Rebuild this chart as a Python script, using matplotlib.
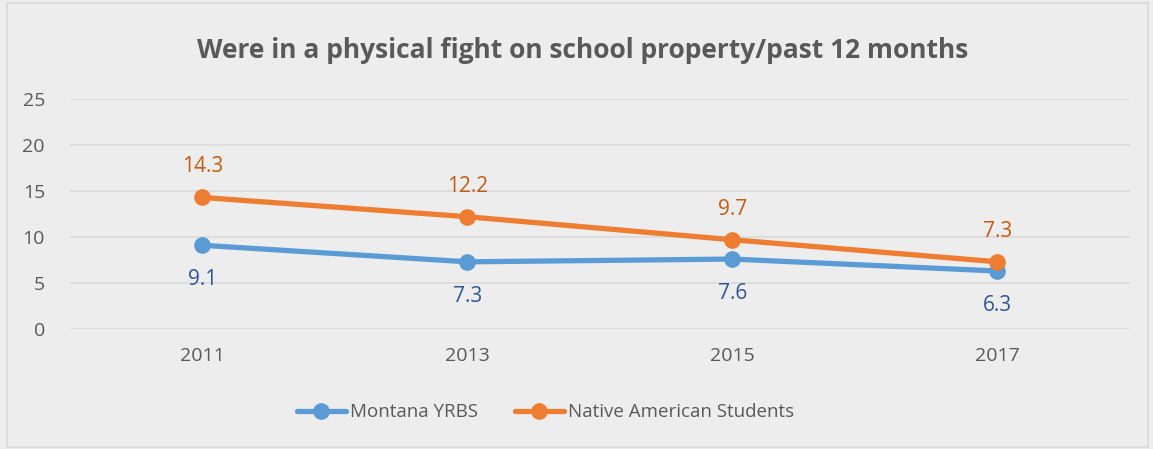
import matplotlib.pyplot as plt
from matplotlib.patches import Rectangle

years = ["2011", "2013", "2015", "2017"]
montana = [9.1, 7.3, 7.6, 6.3]
native = [14.3, 12.2, 9.7, 7.3]

plt.rcParams['font.family'] = ['Open Sans', 'DejaVu Sans']

bg = "#EDEDED"
fig = plt.figure(figsize=(11.53, 4.49), dpi=100, facecolor=bg)
ax = fig.add_axes([0.0607, 0.2673, 0.9193, 0.5122], facecolor=bg)

# cadre autour du graphique
fig.patches.append(Rectangle((0.006, 0.004), 0.99, 0.99, transform=fig.transFigure,
                             fill=False, edgecolor="#D9D9D9", linewidth=1.2))

x = range(len(years))
ax.plot(x, montana, color="#5B9BD5", linewidth=3.8, marker="o", markersize=11,
        label="Montana YRBS", solid_capstyle="round")
ax.plot(x, native, color="#ED7D31", linewidth=3.8, marker="o", markersize=11,
        label="Native American Students", solid_capstyle="round")

for i, v in enumerate(montana):
    ax.annotate(f"{v}", (i, v), xytext=(0, -25), textcoords="offset points",
                ha="center", va="center", color="#2F5597", fontsize=15)
for i, v in enumerate(native):
    ax.annotate(f"{v}", (i, v), xytext=(0, 22), textcoords="offset points",
                ha="center", va="center", color="#C55A11", fontsize=15)

ax.set_xlim(-0.5, len(years) - 0.5)
ax.set_ylim(0, 25)
ax.set_yticks([0, 5, 10, 15, 20, 25])
ax.set_xticks(list(x))
ax.set_xticklabels(years)
ax.grid(axis="y", color="#D9D9D9", linewidth=1.2)
ax.set_axisbelow(True)
for s in ax.spines.values():
    s.set_visible(False)
ax.tick_params(length=0, labelsize=14, colors="#595959")
ax.tick_params(axis="x", pad=13)
ax.tick_params(axis="y", pad=18)

fig.text(0.505, 0.888, "Were in a physical fight on school property/past 12 months",
         ha="center", va="center", fontsize=19, fontweight="bold", color="#595959")

leg = ax.legend(loc="center", bbox_to_anchor=(0.473, 0.082), bbox_transform=fig.transFigure,
                ncol=2, frameon=False, fontsize=13.5, labelcolor="#595959",
                handlelength=2.6, columnspacing=2.0, handletextpad=0.2)

fig.savefig("out.png", dpi=100, facecolor=bg)
